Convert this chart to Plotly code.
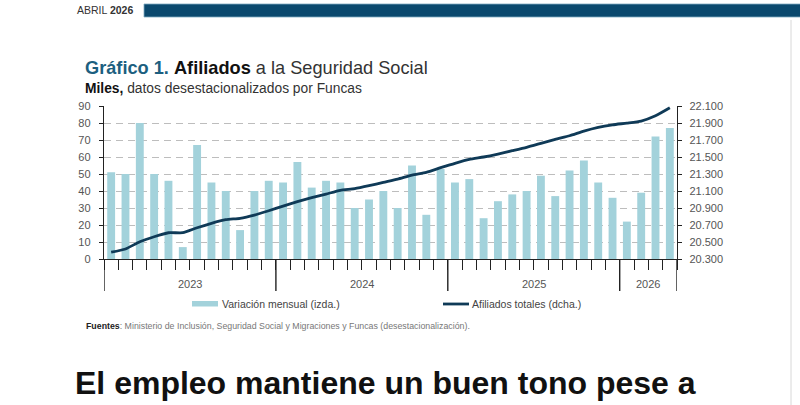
import plotly.graph_objects as go

# ---------------- data ----------------
months = [f"{y}-{m:02d}" for y in (2023, 2024, 2025) for m in range(1, 13)] + [f"2026-{m:02d}" for m in range(1, 5)]
variacion_mensual = [51, 50, 80, 50, 46, 7, 67, 45, 40, 17, 40, 46,
                     45, 57, 42, 46, 45, 30, 35, 40, 30, 55, 26, 53,
                     45, 47, 24, 34, 38, 40, 49, 37, 52, 58, 45, 36,
                     22, 39, 72, 77]
afiliados_totales = [20380, 20418, 20503, 20562, 20609, 20609, 20668, 20720, 20762, 20779, 20817, 20868,
                     20923, 20974, 21021, 21064, 21108, 21127, 21162, 21202, 21241, 21288, 21320, 21374,
                     21426, 21472, 21500, 21535, 21574, 21614, 21661, 21708, 21750, 21805, 21849, 21879,
                     21899, 21923, 21985, 22079]
years = ["2023", "2024", "2025", "2026"]
left_ticks = [0, 10, 20, 30, 40, 50, 60, 70, 80, 90]
right_ticks = [20300, 20500, 20700, 20900, 21100, 21300, 21500, 21700, 21900, 22100]
right_tick_labels = ["20.300", "20.500", "20.700", "20.900", "21.100", "21.300", "21.500", "21.700", "21.900", "22.100"]

# ---------------- geometry ----------------
W, H = 800, 405
L, R, T, B = 104, 677, 106, 259
FONT = "Liberation Sans"
GREY = "#555555"
BAR = "#a3d2db"
LINE = "#0f3a57"

def px(x):
    return (x - L) / (R - L)

def py(y):
    return (B - y) / (B - T)

n = len(variacion_mensual)
xs = list(range(n))

fig = go.Figure()
fig.add_trace(go.Bar(x=xs, y=variacion_mensual, marker=dict(color=BAR, line=dict(width=0)),
                     width=0.55, name="Variación mensual (izda.)", yaxis="y", showlegend=False))
fig.add_trace(go.Scatter(x=xs, y=afiliados_totales, mode="lines",
                         line=dict(color=LINE, width=2.8, shape="spline", smoothing=0.6),
                         name="Afiliados totales (dcha.)", yaxis="y2", showlegend=False))

boundaries = [i + 0.5 for i in range(-1, n)]

fig.update_layout(
    width=W, height=H,
    margin=dict(l=L, r=W - R, t=T, b=H - B, pad=0),
    paper_bgcolor="white", plot_bgcolor="white",
    font=dict(family=FONT, color=GREY, size=11),
    xaxis=dict(range=[-0.5, n - 0.5], tickvals=boundaries, showticklabels=False,
               ticks="outside", ticklen=10, tickwidth=1.4, tickcolor="#222",
               showline=True, linecolor="#222", linewidth=1.4, showgrid=False, zeroline=False),
    yaxis=dict(range=[0, 90], tickvals=left_ticks, ticks="outside", ticklen=4, tickwidth=1.2,
               tickcolor="#222", showline=True, linecolor="#222", linewidth=1.4,
               showgrid=True, gridcolor="#bdbdbd", griddash="7px,5px", gridwidth=1,
               zeroline=False, ticklabelstandoff=6, tickfont=dict(size=11, color=GREY)),
    yaxis2=dict(range=[20300, 22100], tickvals=right_ticks, ticktext=right_tick_labels,
                overlaying="y", side="right", anchor="x", ticks="outside", ticklen=4, tickwidth=1.2,
                tickcolor="#222", showline=True, linecolor="#222", linewidth=1.4,
                showgrid=False, zeroline=False, ticklabelstandoff=5, tickfont=dict(size=11, color=GREY)),
)

shapes = []
annotations = []

# year separators and labels
year_starts = [0, 12, 24, 36]
seps = [s - 0.5 for s in year_starts] + [n - 0.5]
for s in seps:
    shapes.append(dict(type="line", xref="x", yref="paper", x0=s, x1=s, y0=0, y1=py(291),
                       line=dict(color="#222", width=1.4)))
for i, yr in enumerate(years):
    c = (seps[i] + seps[i + 1]) / 2
    annotations.append(dict(xref="x", yref="paper", x=c, y=py(284), text=yr, showarrow=False,
                            font=dict(size=11, color=GREY), xanchor="center", yanchor="middle"))

# header
annotations.append(dict(xref="paper", yref="paper", x=px(75), y=py(10), text="ABRIL <b>2026</b>",
                        showarrow=False, xanchor="left", yanchor="middle",
                        font=dict(size=10.5, color="#333")))
shapes.append(dict(type="rect", xref="paper", yref="paper", x0=px(144), x1=px(801), y0=py(4), y1=py(17),
                   fillcolor="#0b496e", line=dict(color="#7fa9c0", width=0.8)))

# title & subtitle
annotations.append(dict(xref="paper", yref="paper", x=px(83), y=py(68),
                        text="<b><span style='color:#1c5f80'>Gráfico 1.</span></b> <b><span style='color:#111'>Afiliados</span></b> <span style='color:#333'>a la Seguridad Social</span>",
                        showarrow=False, xanchor="left", yanchor="middle", font=dict(size=18.2)))
annotations.append(dict(xref="paper", yref="paper", x=px(83), y=py(88),
                        text="<b><span style='color:#111'>Miles,</span></b> <span style='color:#333'>datos desestacionalizados por Funcas</span>",
                        showarrow=False, xanchor="left", yanchor="middle", font=dict(size=13.8)))

# legend (manual)
shapes.append(dict(type="rect", xref="paper", yref="paper", x0=px(192), x1=px(218), y0=py(306.5), y1=py(301),
                   fillcolor=BAR, line=dict(width=0)))
annotations.append(dict(xref="paper", yref="paper", x=px(220), y=py(304), text="Variación mensual (izda.)",
                        showarrow=False, xanchor="left", yanchor="middle", font=dict(size=10.5, color="#444")))
shapes.append(dict(type="line", xref="paper", yref="paper", x0=px(443), x1=px(469), y0=py(304), y1=py(304),
                   line=dict(color=LINE, width=2.8)))
annotations.append(dict(xref="paper", yref="paper", x=px(470), y=py(304), text="Afiliados totales (dcha.)",
                        showarrow=False, xanchor="left", yanchor="middle", font=dict(size=10.5, color="#444")))

# source
annotations.append(dict(xref="paper", yref="paper", x=px(84), y=py(326),
                        text="<b><span style='color:#222'>Fuentes</span></b>: Ministerio de Inclusión, Seguridad Social y Migraciones y Funcas (desestacionalización).",
                        showarrow=False, xanchor="left", yanchor="middle", font=dict(size=8.8, color="#777")))

# headline below
annotations.append(dict(xref="paper", yref="paper", x=px(73), y=py(383),
                        text="<b>El empleo mantiene un buen tono pese a</b>",
                        showarrow=False, xanchor="left", yanchor="middle", font=dict(size=32, color="#111")))

# right page edge
shapes.append(dict(type="line", xref="paper", yref="paper", x0=px(791), x1=px(791), y0=py(20), y1=py(405),
                   line=dict(color="#d8d8d8", width=1)))

fig.update_layout(shapes=shapes, annotations=annotations)
fig.write_html("out.html")
